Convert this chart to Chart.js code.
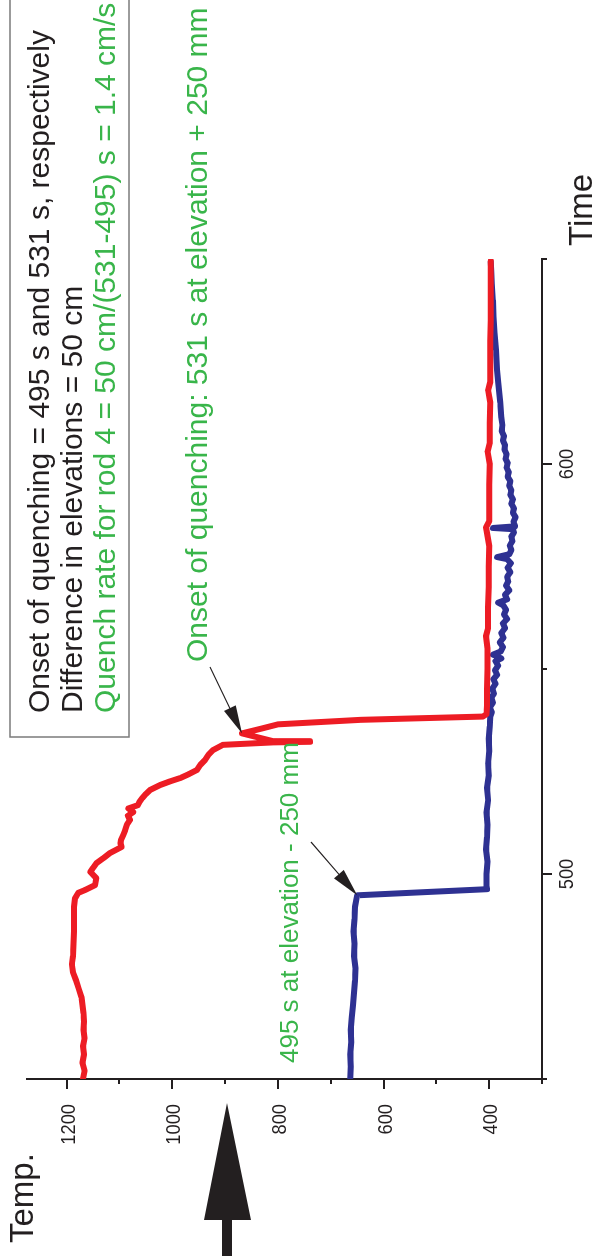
<!DOCTYPE html>
<html>
<head>
<meta charset="utf-8">
<script src="https://cdn.jsdelivr.net/npm/chart.js@4/dist/chart.umd.min.js"></script>
<style>
  html, body { margin: 0; padding: 0; background: #fff; overflow: hidden; }
  #page { position: absolute; left: 0; top: 0; width: 595px; height: 1256px; overflow: hidden; background: #fff; }
  /* the plot is laid out landscape and turned a quarter turn counter-clockwise */
  #turn { position: absolute; left: 0; top: 0; width: 1256px; height: 595px;
          transform-origin: 0 0; transform: translate(0, 1256px) rotate(-90deg); }
  canvas { display: block; }
</style>
</head>
<body>
<div id="page"><div id="turn"><canvas id="c" width="1256" height="595"></canvas></div></div>
<script>
// Rod temperature, elevation +250 mm (red)
const redTime = [
  450, 452, 454, 456, 458, 460, 462, 464, 466, 468,
  470, 472, 474, 476, 478, 480, 483, 486, 489, 492,
  494.1, 495.4, 496.1, 497.3, 499, 500.5, 501.5, 502.7, 503.9, 505.1,
  506.6, 507.5, 508.3, 509.5, 510.7, 512, 513.2, 514.2, 515.1, 516,
  516.8, 517.6, 518.5, 519.5, 520.5, 521.7, 522.6, 523.4, 524.4, 525.4,
  526.6, 527.8, 529, 530.2, 531.5, 532.1, 532.25, 532.4, 534.3, 535.5,
  536.5, 537.6, 538.4, 539, 541, 545, 550, 555, 558, 560,
  565, 570, 575, 580, 584.6, 586, 590, 595, 600, 603,
  605, 610, 615, 618, 620, 625, 630, 635, 640, 645,
  649.5
];
const redTemp = [
  1169, 1166, 1170, 1167, 1169, 1166, 1168, 1167, 1168, 1170,
  1172, 1177, 1182, 1188, 1190, 1188, 1187, 1186, 1186, 1186,
  1184, 1178, 1165, 1146, 1144, 1155, 1150, 1143, 1130, 1118,
  1096, 1098, 1097, 1093, 1089, 1086, 1080, 1084, 1074, 1083,
  1065, 1062, 1057, 1050, 1042, 1023, 1004, 985, 968, 953,
  947, 938, 932, 923, 904, 809, 739, 809, 868, 830,
  800, 644, 412, 405, 404, 404, 403, 403, 406, 402,
  402, 401, 401, 400, 406, 400, 400, 400, 399, 403,
  399, 399, 398, 402, 398, 398, 398, 397, 397, 397,
  397
];

// Rod temperature, elevation -250 mm (blue)
const blueTime = [
  450, 453, 456, 459, 462, 465, 468, 471, 474, 477,
  480, 483, 486, 489, 492, 494.8, 496.3, 497, 500, 503,
  506, 509, 512, 515, 518, 521, 524, 527, 530, 533,
  536, 538.3, 539.5, 540.6, 541.8, 543, 544, 545.2, 546.4, 547.5,
  548.6, 549.7, 550.8, 551.9, 552.6, 553.5, 554.3, 555.4, 556.5, 557.6,
  558.8, 560, 561.1, 562.2, 563.3, 564.4, 565.5, 566.2, 567, 568.1,
  569.2, 570.3, 571.4, 572.5, 573.6, 574.7, 575.8, 576.8, 577.3, 578,
  579, 580.1, 581.2, 582.3, 583.3, 584.1, 584.4, 584.8, 585.9, 587,
  588.1, 589.2, 590.3, 591.4, 592.5, 593.6, 594.7, 595.8, 596.9, 598,
  599.1, 600.2, 601.3, 602.4, 603.5, 604.6, 605.7, 606.8, 608, 609.5,
  611.5, 615, 619.8, 623, 627.8, 632, 635.9, 640, 644, 647,
  649.3
];
const blueTemp = [
  663, 662, 663, 661, 662, 660, 658, 656, 654, 653,
  656, 655, 657, 655, 654, 650, 404, 405, 405, 403,
  406, 404, 403, 405, 402, 404, 401, 402, 400, 401,
  399, 398, 395, 399, 393, 396, 391, 394, 388, 392,
  385, 389, 383, 388, 377, 393, 378, 374, 380, 373,
  377, 370, 374, 366, 372, 368, 373, 383, 366, 370,
  362, 368, 364, 366, 360, 365, 359, 366, 385, 362,
  358, 361, 356, 358, 353, 355, 393, 351, 354, 350,
  355, 353, 358, 355, 360, 358, 362, 360, 365, 363,
  367, 365, 369, 367, 371, 370, 374, 372, 376, 375,
  377, 379, 383, 385, 387, 390, 392, 393, 395, 396,
  397
];

// Axis ranges and labelled ticks
const timeRange = [450, 650];
const timeStep = 50;
const timeLabels = [500, 600];
const tempRange = [300, 1275];
const tempStep = 100;
const tempLabels = [400, 600, 800, 1000, 1200];

// Points the call-outs point at (time, temperature)
const redOnset = [534.3, 868];
const blueOnset = [494.8, 650];

const noteLines = [
  'Onset of quenching = 495 s and 531 s, respectively',
  'Difference in elevations = 50 cm',
  'Quench rate for rod 4 = 50 cm/(531-495) s = 1.4 cm/s'
];
const upperLabel = 'Onset of quenching: 531 s at elevation + 250 mm';
const lowerLabel = '495 s at elevation - 250 mm';

const FONT = '"Liberation Sans", Arial, Helvetica, sans-serif';
const INK = '#231F20';
const RED = '#ED1C24';
const BLUE = '#2E3192';
const GREEN = '#39B54A';

function pairs(xs, ys) { return xs.map((x, i) => ({ x: x, y: ys[i] })); }

// condensed text helper: fillText squeezed horizontally
function narrowText(ctx, text, x, y, align, squeeze) {
  const w = ctx.measureText(text).width * squeeze;
  let left = x;
  if (align === 'right') left = x - w;
  else if (align === 'center') left = x - w / 2;
  ctx.save();
  ctx.translate(left, y);
  ctx.scale(squeeze, 1);
  ctx.textAlign = 'left';
  ctx.fillText(text, 0, 0);
  ctx.restore();
}

// tick marks (long at labelled values, short between) and tick labels
const axisDecor = {
  id: 'axisDecor',
  afterDraw(chart) {
    const ctx = chart.ctx, xs = chart.scales.x, ys = chart.scales.y;
    ctx.save();
    ctx.strokeStyle = INK;
    ctx.fillStyle = INK;
    ctx.lineWidth = 2;
    ctx.font = '21px ' + FONT;
    ctx.textBaseline = 'alphabetic';
    xs.ticks.forEach(t => {
      const p = Math.round(xs.getPixelForValue(t.value));
      const major = timeLabels.includes(t.value);
      ctx.beginPath(); ctx.moveTo(p, xs.top); ctx.lineTo(p, xs.top + (major ? 10 : 5)); ctx.stroke();
      if (major) narrowText(ctx, String(t.value), p, xs.top + 31, 'center', 0.87);
    });
    ys.ticks.forEach(t => {
      const p = Math.round(ys.getPixelForValue(t.value));
      const major = tempLabels.includes(t.value);
      ctx.beginPath(); ctx.moveTo(ys.right, p); ctx.lineTo(ys.right - (major ? 10 : 5), p); ctx.stroke();
      if (major) narrowText(ctx, String(t.value), ys.right - 25, p + 7.5, 'right', 0.87);
    });
    ctx.restore();
  }
};

function arrowTo(ctx, x0, y0, x1, y1) {
  const a = Math.atan2(y1 - y0, x1 - x0);
  const L = 28, W = 6.5;
  const c = Math.cos(a), s = Math.sin(a);
  ctx.beginPath();
  ctx.moveTo(x0, y0);
  ctx.lineTo(x1 - L * 0.9 * c, y1 - L * 0.9 * s);
  ctx.stroke();
  ctx.beginPath();
  ctx.moveTo(x1, y1);
  ctx.lineTo(x1 - L * c + W * s, y1 - L * s - W * c);
  ctx.lineTo(x1 - L * c - W * s, y1 - L * s + W * c);
  ctx.closePath();
  ctx.fill();
}

// notes, call-outs, axis names and the direction arrow
const notes = {
  id: 'notes',
  afterDraw(chart) {
    const ctx = chart.ctx, xs = chart.scales.x, ys = chart.scales.y;
    ctx.save();
    ctx.textAlign = 'left';
    ctx.textBaseline = 'alphabetic';

    // framed note
    ctx.strokeStyle = '#7B7B7B';
    ctx.lineWidth = 1.5;
    ctx.strokeRect(519, 10, 760, 119);
    ctx.font = '30px ' + FONT;
    ctx.fillStyle = INK;
    ctx.fillText(noteLines[0], 543, 49);
    ctx.fillText(noteLines[1], 543, 82);
    ctx.fillStyle = GREEN;
    ctx.fillText(noteLines[2], 543, 115);

    // call-out labels
    ctx.fillText(upperLabel, 594, 207);
    ctx.font = '26px ' + FONT;
    ctx.fillText(lowerLabel, 193, 298);

    // call-out arrows
    ctx.strokeStyle = INK;
    ctx.fillStyle = INK;
    ctx.lineWidth = 1.2;
    arrowTo(ctx, 589, 210, xs.getPixelForValue(redOnset[0]), ys.getPixelForValue(redOnset[1]));
    arrowTo(ctx, 414, 311, xs.getPixelForValue(blueOnset[0]), ys.getPixelForValue(blueOnset[1]));

    // axis names
    ctx.font = '33px ' + FONT;
    ctx.fillStyle = INK;
    ctx.fillText('Temp.', 13, 33);
    ctx.fillText('Time', 1010, 592);

    // heavy arrow
    ctx.fillRect(0, 222, 38, 10);
    ctx.beginPath();
    ctx.moveTo(36, 204);
    ctx.lineTo(153, 227);
    ctx.lineTo(36, 251);
    ctx.closePath();
    ctx.fill();
    ctx.restore();
  }
};

new Chart(document.getElementById('c').getContext('2d'), {
  type: 'line',
  data: {
    datasets: [
      {
        data: pairs(redTime, redTemp),
        borderColor: RED, backgroundColor: RED,
        borderWidth: 6, pointRadius: 0, tension: 0,
        borderJoinStyle: 'round', borderCapStyle: 'round'
      },
      {
        data: pairs(blueTime, blueTemp),
        borderColor: BLUE, backgroundColor: BLUE,
        borderWidth: 6, pointRadius: 0, tension: 0,
        borderJoinStyle: 'round', borderCapStyle: 'round'
      }
    ]
  },
  options: {
    responsive: false,
    animation: false,
    devicePixelRatio: 1,
    layout: { padding: { left: 0, top: 27, right: 259, bottom: 0 } },
    plugins: { legend: { display: false }, tooltip: { enabled: false } },
    scales: {
      x: {
        type: 'linear',
        min: timeRange[0], max: timeRange[1],
        grid: { display: false, drawTicks: false },
        border: { display: true, color: INK, width: 2 },
        ticks: { display: false, stepSize: timeStep, autoSkip: false },
        afterFit(scale) { scale.height = 53; }
      },
      y: {
        type: 'linear',
        min: tempRange[0], max: tempRange[1],
        grid: { display: false, drawTicks: false },
        border: { display: true, color: INK, width: 2 },
        ticks: { display: false, stepSize: tempStep, includeBounds: false, autoSkip: false },
        afterFit(scale) { scale.width = 177; }
      }
    }
  },
  plugins: [axisDecor, notes]
});
</script>
</body>
</html>
